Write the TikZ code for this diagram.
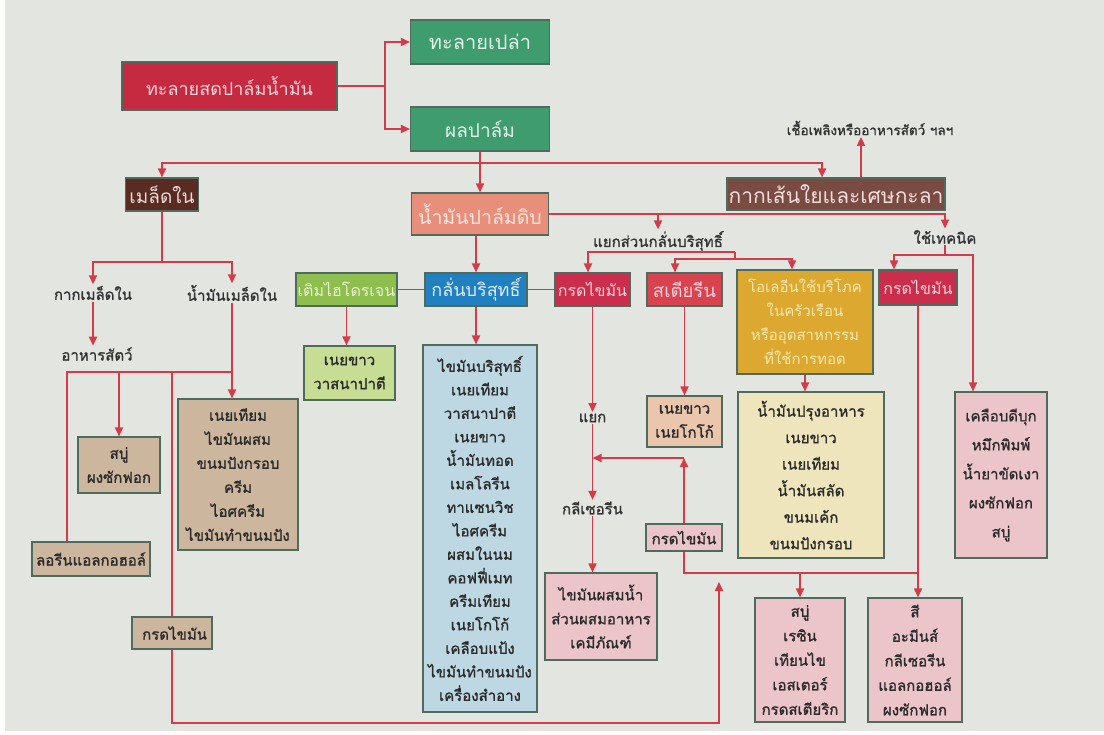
\documentclass[tikz,border=0pt]{standalone}
\usepackage{fontspec}
\setmainfont[Script=Thai]{Loma}
\newfontfamily\heavythai[Script=Thai, FakeBold=1.2]{Loma}
\usetikzlibrary{arrows.meta}
\pgfdeclarelayer{paper}
\pgfdeclarelayer{wires}
\pgfsetlayers{paper,wires,main}
\definecolor{paperc}{HTML}{E3E5E1}
\definecolor{wirec}{HTML}{D23C4A}
\definecolor{edgec}{HTML}{4E6B5E}
\definecolor{cRed}{HTML}{C62A40}
\definecolor{tRed}{HTML}{F7D9DD}
\definecolor{cGreen}{HTML}{3E9C6F}
\definecolor{tGreen}{HTML}{E6F4EA}
\definecolor{cKernel}{HTML}{5A2B23}
\definecolor{tKernel}{HTML}{EADBD3}
\definecolor{cFiber}{HTML}{7A4B43}
\definecolor{tFiber}{HTML}{F2DEDA}
\definecolor{cCrude}{HTML}{E88F7B}
\definecolor{tCrude}{HTML}{FCE6DE}
\definecolor{cHydro}{HTML}{8DBE4E}
\definecolor{tHydro}{HTML}{E8F3CC}
\definecolor{cBlue}{HTML}{2080C0}
\definecolor{tBlue}{HTML}{DCEEFA}
\definecolor{cAcid}{HTML}{CB2E4C}
\definecolor{tAcid}{HTML}{F9D5DC}
\definecolor{cStearin}{HTML}{D8434F}
\definecolor{cGold}{HTML}{DCA830}
\definecolor{tGold}{HTML}{F8EAAE}
\definecolor{cLime}{HTML}{C8DD94}
\definecolor{cSky}{HTML}{BDD8E2}
\definecolor{cTan}{HTML}{CCB69D}
\definecolor{cPink}{HTML}{EBC5C9}
\definecolor{cPeach}{HTML}{E9C6AC}
\definecolor{cCream}{HTML}{EFE5BC}
\definecolor{inkc}{HTML}{2B2B2B}
\definecolor{labelc}{HTML}{333333}
\begin{document}
\begin{tikzpicture}[x=1pt,y=-1pt,
  wire/.style={draw=wirec, line width=1.7pt},
  arr/.style={wire, -{Triangle[width=8pt,length=9pt]}},
  bx/.style 2 args={draw=edgec, line width=1.1pt, minimum width=#1pt,
    minimum height=#2pt, inner sep=1pt, align=center,
    font=\fontsize{16}{19}\selectfont},
  hsize/.style={font=\fontsize{#1}{#1}\selectfont},
  lst/.style={text=inkc, font=\heavythai\fontsize{15}{#1}\selectfont},
  lbl/.style={text=labelc, inner sep=1.5pt, font=\heavythai\fontsize{15}{18}\selectfont},
]
\begin{pgfonlayer}{paper}
  \fill[white] (0,0) rectangle (1104,735);
  \fill[paperc] (5,0) rectangle (1104,731);
\end{pgfonlayer}
\useasboundingbox (0,0) rectangle (1104,735);

% top row
\node[bx={215}{48}, fill=cRed, text=tRed, hsize=18] (bunch) at (229.5,86) {ทะลายสดปาล์มน้ำมัน};
\node[bx={139}{44}, fill=cGreen, text=tGreen, hsize=20] (empty) at (480,42) {ทะลายเปล่า};
\node[bx={139}{44}, fill=cGreen, text=tGreen, hsize=19] (fruit) at (480,129) {ผลปาล์ม};
\node[bx={73}{33}, fill=cKernel, text=tKernel, hsize=19] (kernel) at (162,194.5) {เมล็ดใน};
\node[bx={218}{32}, fill=cFiber, text=tFiber, hsize=21] (fiber) at (836,194) {กากเส้นใยและเศษกะลา};
\node[bx={137}{42}, fill=cCrude, text=tCrude, hsize=19.5] (crude) at (480,214) {น้ำมันปาล์มดิบ};

% process boxes
\node[bx={101}{33}, fill=cHydro, text=tHydro] (hydro) at (346.5,289.5) {เติมไฮโดรเจน};
\node[bx={102}{33}, fill=cBlue, text=tBlue, hsize=18] (refine) at (476,289.5) {กลั่นบริสุทธิ์};
\node[bx={75}{33}, fill=cAcid, text=tAcid] (acidA) at (592.5,289.5) {กรดไขมัน};
\node[bx={75}{33}, fill=cStearin, text=tAcid, hsize=18.5] (stearin) at (684.5,289.5) {สเตียรีน};
\node[bx={136}{104}, fill=cGold, text=tGold, font=\fontsize{15}{24}\selectfont] (olein) at (805,322) {โอเลอีนใช้บริโภค\\ในครัวเรือน\\หรืออุตสาหกรรม\\ที่ใช้การทอด};
\node[bx={78}{35}, fill=cAcid, text=tAcid] (acidB) at (918,287.5) {กรดไขมัน};

% free labels
\node[lbl, font=\heavythai\fontsize{13.5}{16}\selectfont] (fuel) at (870,128) {เชื้อเพลิงหรืออาหารสัตว์ ฯลฯ};
\node[lbl] (sep) at (658,241) {แยกส่วนกลั่นบริสุทธิ์};
\node[lbl] (tech) at (945,237) {ใช้เทคนิค};
\node[lbl] (pk) at (93,293) {กากเมล็ดใน};
\node[lbl] (pko) at (232,293) {น้ำมันเมล็ดใน};
\node[lbl] (feed) at (97,354) {อาหารสัตว์};
\node[lbl] (yk) at (592.5,418) {แยก};
\node[lbl] (gly) at (592.5,508) {กลีเซอรีน};

% product boxes
\node[bx={91}{54}, fill=cLime, lst=24] (butter) at (349.5,373) {เนยขาว\\วาสนาปาตี};
\node[bx={114}{367}, fill=cSky, lst=23.5] (reflist) at (480,528.5) {ไขมันบริสุทธิ์\\เนยเทียม\\วาสนาปาตี\\เนยขาว\\น้ำมันทอด\\เมลโลรีน\\ทาแซนวิช\\ไอศครีม\\ผสมในนม\\คอฟฟี่เมท\\ครีมเทียม\\เนยโกโก้\\เคลือบแป้ง\\ไขมันทำขนมปัง\\เครื่องสำอาง};
\node[bx={120}{151}, fill=cTan, lst=24] (pkolist) at (238,474.5) {เนยเทียม\\ไขมันผสม\\ขนมปังกรอบ\\ครีม\\ไอศครีม\\ไขมันทำขนมปัง};
\node[bx={82}{56}, fill=cTan, lst=24] (soapA) at (119,465) {สบู่\\ผงซักฟอก};
\node[bx={118}{34}, fill=cTan, lst=24] (lauryl) at (91,559) {ลอรีนแอลกอฮอล์};
\node[bx={80}{32}, fill=cTan, lst=24, text width=70pt, align=right] (acidC) at (172,633) {กรดไขมัน};
\node[bx={112}{87}, fill=cPink, lst=24] (mixlist) at (601,616.5) {ไขมันผสมน้ำ\\ส่วนผสมอาหาร\\เคมีภัณฑ์};
\node[bx={75}{51}, fill=cPeach, lst=24] (stearlist) at (684.5,421.5) {เนยขาว\\เนยโกโก้};
\node[bx={146}{166}, fill=cCream, lst=26.5] (oleinlist) at (811,475) {น้ำมันปรุงอาหาร\\เนยขาว\\เนยเทียม\\น้ำมันสลัด\\ขนมเค้ก\\ขนมปังกรอบ};
\node[bx={92}{166}, fill=cPink, lst=29] (techlist) at (1001,475) {เคลือบดีบุก\\หมึกพิมพ์\\น้ำยาขัดเงา\\ผงซักฟอก\\สบู่};
\node[bx={76}{27}, fill=cPink, lst=24] (acidD) at (684,537.5) {กรดไขมัน};
\node[bx={90}{124}, fill=cPink, lst=24.5] (soaplist) at (800,660) {สบู่\\เรซิน\\เทียนไข\\เอสเตอร์\\กรดสเตียริก};
\node[bx={94}{124}, fill=cPink, lst=24.5] (paintlist) at (915,660) {สี\\อะมีนส์\\กลีเซอรีน\\แอลกอฮอล์\\ผงซักฟอก};

\begin{pgfonlayer}{wires}
  % bunch splits into empty bunch and fruit
  \coordinate (jA) at (385,86);
  \draw[wire] (bunch.east) -- (jA);
  \draw[arr] (jA) |- (empty.west);
  \draw[arr] (jA) |- (fruit.west);
  \draw[arr] (fruit.south) -- (crude.north);
  \coordinate (jB) at (480,163);
  \draw[arr] (jB) -| (kernel.north);
  \draw[arr] (jB) -| ([xshift=-14pt]fiber.north);
  \draw[arr] ([xshift=25pt]fiber.north) -- ([xshift=25pt]fiber.north |- fuel.south);
  % crude oil
  \draw[arr] (crude.south -| refine.north) -- (refine.north);
  \draw[arr] (crude.east) -| (tech.north);
  \draw[arr] (crude.east -| sep.north) -- (sep.north);
  \coordinate (s1) at (735,252);
  \coordinate (s2) at (735,259);
  \draw[arr] (s1) -| ([xshift=-4.5pt]acidA.north);
  \draw[wire] (s1) -- (s2);
  \draw[arr] (s2) -| ([xshift=-9.5pt]stearin.north);
  \draw[arr] (s2) -| ([xshift=-13pt]olein.north);
  \coordinate (t1) at (945,255);
  \draw[wire] (tech.south) -- (t1);
  \draw[arr] (t1) -| ([xshift=-24pt]acidB.north);
  \draw[arr] (t1) -| ([xshift=-28pt]techlist.north);
  \draw[wire] (hydro.east) -- (refine.west);
  \draw[wire] (refine.east) -- (acidA.west);
  \draw[arr] (hydro.south) -- (hydro.south |- butter.north);
  \draw[arr] (refine.south) -- (refine.south |- reflist.north);
  \draw[arr] (stearin.south) -- (stearlist.north);
  \draw[arr] (olein.south) -- (olein.south |- oleinlist.north);
  % fatty acid splitting
  \draw[arr] (acidA.south) -- (yk.north);
  \draw[arr] (yk.south) -- (gly.north);
  \draw[arr] (gly.south) -- (gly.south |- mixlist.north);
  \coordinate (fb) at (684,458);
  \draw[arr] (acidD.north) -- (fb);
  \draw[arr] (fb) -- (fb -| yk.south);
  \coordinate (jC) at (918,573);
  \draw[wire] (acidD.south) |- (jC);
  \draw[arr] (acidB.south) -- (acidB.south |- paintlist.north);
  \draw[arr] (soaplist.north |- jC) -- (soaplist.north);
  % palm kernel
  \coordinate (k1) at (162,262);
  \draw[wire] (kernel.south) -- (k1);
  \draw[arr] (k1) -| (pk.north);
  \draw[arr] (k1) -| (pko.north);
  \draw[arr] (pk.south) -- (pk.south |- feed.north);
  \draw[arr] (pko.south) -- (pko.south |- pkolist.north);
  \coordinate (p1) at (232,372);
  \draw[wire] (p1) -| ([xshift=-24pt]lauryl.north);
  \draw[arr] (soapA.north |- p1) -- (soapA.north);
  \coordinate (a2) at (172,723);
  \coordinate (a3) at (719,723);
  \coordinate (a4) at (719,582);
  \draw[arr] (acidC.north |- p1) -- (a2) -- (a3) -- (a4);
\end{pgfonlayer}
\end{tikzpicture}
\end{document}
